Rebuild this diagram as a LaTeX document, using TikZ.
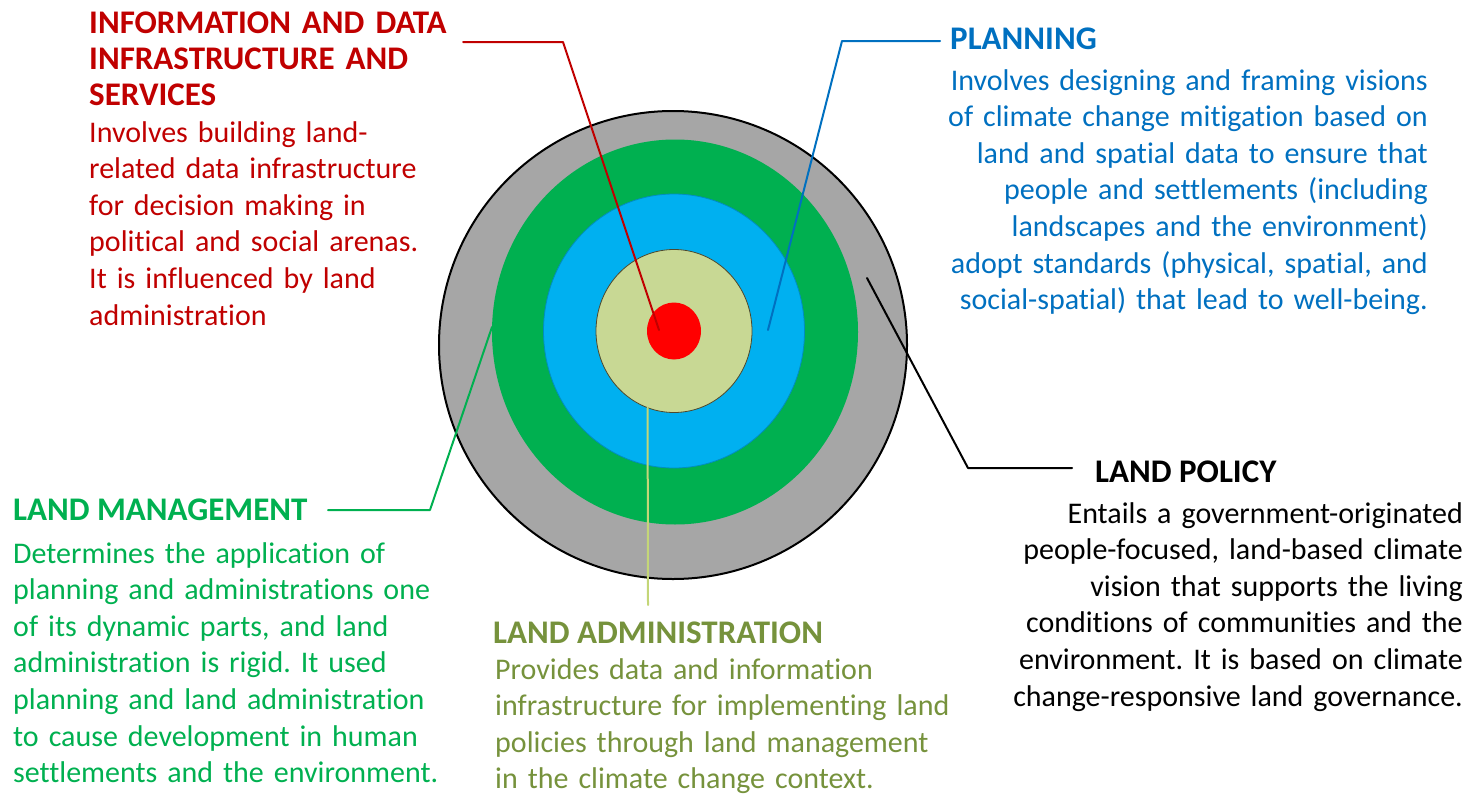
\documentclass[tikz,border=0pt]{standalone}
\usepackage{fontspec}
\setmainfont{Carlito}[Ligatures=NoCommon]
\frenchspacing
\usetikzlibrary{shapes.geometric}
\definecolor{ringgray}{RGB}{166,166,166}
\definecolor{ringgreen}{RGB}{0,176,80}
\definecolor{ringblue}{RGB}{0,176,240}
\definecolor{ringolive}{RGB}{200,216,148}
\definecolor{infored}{RGB}{192,0,0}
\definecolor{planblue}{RGB}{0,112,192}
\definecolor{managegreen}{RGB}{0,176,80}
\definecolor{admintext}{RGB}{118,146,60}
\definecolor{adminline}{RGB}{196,214,120}
\begin{document}
\begin{tikzpicture}[x=1pt,y=-1pt,line join=round,line cap=round,
	ring/.style={ellipse,inner sep=0pt,outer sep=0pt},
	head/.style={inner sep=0pt,font=\fontsize{33}{36}\selectfont\bfseries},
	body/.style={inner sep=0pt,font=\fontsize{30}{36.6}\selectfont},
	link/.style={line width=2pt}]
	\useasboundingbox (0,0) rectangle (1470,795);
	% target rings
	\node[ring,fill=ringgray,draw=black,line width=2pt,minimum width=468pt,minimum height=468pt] (policy) at (673,345) {};
	\node[ring,fill=ringgreen,minimum width=366pt,minimum height=385pt] (manage) at (675,332) {};
	\node[ring,fill=ringblue,draw=ringblue!80!black,line width=.8pt,minimum width=261pt,minimum height=274pt] (plan) at (674,331) {};
	\node[ring,fill=ringolive,draw=black!60!olive,line width=.8pt,minimum width=156pt,minimum height=163pt] (admin) at (674,331) {};
	\node[ring,fill=red,minimum width=54pt,minimum height=57pt] (info) at (674,331) {};
	% end points of the leaders
	\coordinate (infoa) at (463,42);
	\coordinate (infob) at (563,42);
	\coordinate (infoc) at (659,330);
	\coordinate (plana) at (940,41);
	\coordinate (planb) at (842,41);
	\coordinate (planc) at (768,330);
	\coordinate (policya) at (1072,468);
	\coordinate (policyb) at (968,468);
	\coordinate (policyc) at (867,278);
	\coordinate (managea) at (328,510);
	\coordinate (manageb) at (430,510);
	\coordinate (managec) at (492,327);
	\coordinate (admina) at (648,605);
	% leaders
	\draw[link,infored] (infoa)--(infob)--(infoc);
	\draw[link,planblue] (plana)--(planb)--(planc);
	\draw[link,black] (policya)--(policyb)--(policyc);
	\draw[link,managegreen] (managea)--(manageb)--(managec);
	\draw[link,adminline] (admin.251)--(admina);
	% texts
	\node[head,text=infored,text width=400pt,align=left,anchor=base west] (infohead) at (89,33) {INFORMATION AND DATA\\INFRASTRUCTURE AND\\SERVICES};
	\node[body,text=infored,text width=400pt,align=left,anchor=base west] (infotext) at (89,142) {Involves building land-\\related data infrastructure\\for decision making in\\political and social arenas.\\It is influenced by land\\administration};
	\node[head,text=planblue,anchor=base west] (planhead) at (950,49) {PLANNING};
	\node[body,text=planblue,text width=500pt,align=right,anchor=base east] (plantext) at (1428,90) {Involves designing and framing visions\\of climate change mitigation based on\\land and spatial data to ensure that\\people and settlements (including\\landscapes and the environment)\\adopt standards (physical, spatial, and\\social-spatial) that lead to well-being.};
	\node[head,anchor=base west] (policyhead) at (1095,482) {LAND POLICY};
	\node[body,text width=480pt,align=right,anchor=base east] (policytext) at (1463,523) {Entails a government-originated\\people-focused, land-based climate\\vision that supports the living\\conditions of communities and the\\environment. It is based on climate\\change-responsive land governance.};
	\node[head,text=managegreen,anchor=base west] (managehead) at (13,520) {LAND MANAGEMENT};
	\node[body,text=managegreen,text width=460pt,align=left,anchor=base west] (managetext) at (13,563) {Determines the application of\\planning and administrations one\\of its dynamic parts, and land\\administration is rigid. It used\\planning and land administration\\to cause development in human\\settlements and the environment.};
	\node[head,text=admintext,anchor=base west] (adminhead) at (493,643) {LAND ADMINISTRATION};
	\node[body,text=admintext,text width=480pt,align=left,anchor=base west] (admintext) at (495,679) {Provides data and information\\infrastructure for implementing land\\policies through land management\\in the climate change context.};
\end{tikzpicture}
\end{document}
